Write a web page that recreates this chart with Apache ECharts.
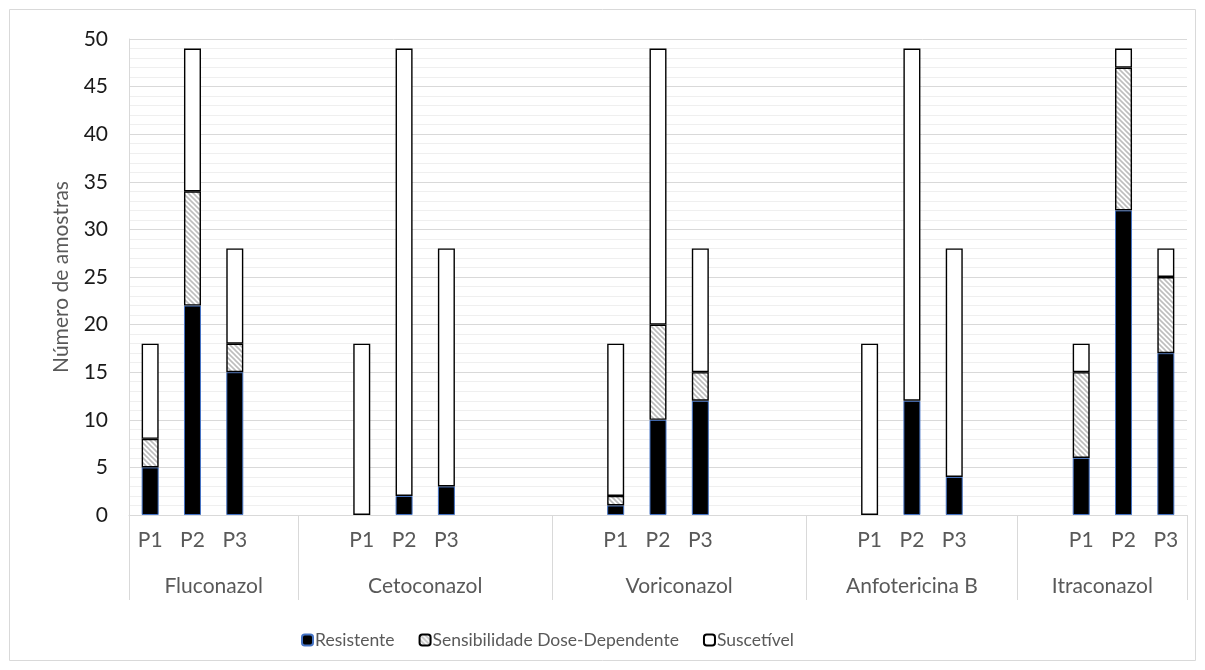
<!DOCTYPE html>
<html><head><meta charset="utf-8">
<script src="https://cdn.jsdelivr.net/npm/echarts@6/dist/echarts.min.js"></script>
<style>html,body{margin:0;padding:0;background:#fff}#c{width:1205px;height:670px}</style>
</head><body><div id="c"></div>
<script>
// ---- data ----
const groups = ['Fluconazol', 'Cetoconazol', 'Voriconazol', 'Anfotericina B', 'Itraconazol'];
const groupSlots = [4, 6, 6, 5, 4];
const categories = ['P1','P2','P3','',
                    '','P1','P2','P3','','',
                    '','P1','P2','P3','','',
                    '','P1','P2','P3','',
                    '','P1','P2','P3'];
const resistente = [5, 22, 15,  0, 2, 3,  1, 10, 12,  0, 12, 4,  6, 32, 17];
const doseDep    = [3, 12, 3,   0, 0, 0,  1, 10, 3,   0, 0, 0,   9, 15, 8];
const suscetivel = [10, 15, 10, 18, 47, 25, 16, 29, 13, 18, 37, 24, 3, 2, 3];
const yTicks = [0, 5, 10, 15, 20, 25, 30, 35, 40, 45, 50];

const FONT = 'Lato, "Open Sans", sans-serif';

function spread(vals) {
  let k = 0;
  return categories.map(c => {
    if (!c) return null;
    const v = vals[k++];
    return v === 0 ? null : v;
  });
}

// second-level (group) axis: half-slot resolution
const total = groupSlots.reduce((a, b) => a + b, 0);
const groupAxis = new Array(2 * total + 1).fill('');
const sepIdx = new Set([0]);
let b = 0;
groups.forEach((g, i) => {
  const s = b, e = b + groupSlots[i];
  groupAxis[s + e] = g;
  sepIdx.add(2 * e);
  b = e;
});

// hatch pattern
const hatch = document.createElement('canvas');
hatch.width = 5; hatch.height = 5;
(function () {
  const ctx = hatch.getContext('2d');
  ctx.fillStyle = '#fff'; ctx.fillRect(0, 0, 5, 5);
  ctx.strokeStyle = '#bdbdbd'; ctx.lineWidth = 1.6;
  ctx.beginPath();
  ctx.moveTo(-1, -1); ctx.lineTo(6, 6);
  ctx.moveTo(-6, -1); ctx.lineTo(1, 6);
  ctx.moveTo(4, -1); ctx.lineTo(11, 6);
  ctx.stroke();
})();

const chart = echarts.init(document.getElementById('c'), null, { renderer: 'canvas' });
chart.setOption({
  animation: false,
  backgroundColor: '#fff',
  textStyle: { fontFamily: FONT },
  graphic: [{
    type: 'rect', shape: { x: 9.5, y: 9.5, width: 1186, height: 651 },
    style: { fill: 'none', stroke: '#d9d9d9', lineWidth: 1 }, silent: true, z: -1
  }],
  grid: { left: 129, right: 18, top: 39, bottom: 155 },
  legend: {
    top: 626, left: 296,
    itemWidth: 11, itemHeight: 11, itemGap: 24,
    textStyle: { color: '#595959', fontSize: 17.5, fontFamily: FONT, padding: [0, 0, 0, -3] },
    data: ['Resistente', 'Sensibilidade Dose-Dependente', 'Suscetível']
  },
  xAxis: [{
    type: 'category', position: 'bottom', data: categories,
    axisLine: { show: true, lineStyle: { color: '#d9d9d9' } },
    axisTick: { show: false },
    axisLabel: { interval: 0, color: '#595959', fontSize: 21, margin: 15, fontFamily: FONT },
    splitLine: { show: false }
  }, {
    type: 'category', position: 'bottom', data: groupAxis, boundaryGap: false,
    axisLine: { show: false },
    axisTick: { show: true, length: 85, interval: (i) => sepIdx.has(i), lineStyle: { color: '#d9d9d9' } },
    axisLabel: { interval: 0, color: '#595959', fontSize: 21, margin: 61, fontFamily: FONT },
    splitLine: { show: false }
  }],
  yAxis: {
    type: 'value', min: yTicks[0], max: yTicks[yTicks.length - 1], interval: yTicks[1] - yTicks[0],
    name: 'Número de amostras', nameLocation: 'middle', nameGap: 57,
    nameTextStyle: { color: '#595959', fontSize: 21, fontFamily: FONT },
    axisLine: { show: true, lineStyle: { color: '#d9d9d9' } },
    axisTick: { show: false },
    axisLabel: { color: '#1a1a1a', fontSize: 21, margin: 21, fontFamily: FONT },
    splitLine: { show: true, lineStyle: { color: '#d9d9d9', width: 1 } },
    minorTick: { show: false, splitNumber: 5 },
    minorSplitLine: { show: true, lineStyle: { color: '#efefef', width: 1 } }
  },
  series: [{
    name: 'Resistente', type: 'bar', stack: 'total', barWidth: 17, xAxisIndex: 0,
    data: spread(resistente),
    itemStyle: { color: '#000', borderColor: '#4472c4', borderWidth: 1 }
  }, {
    name: 'Sensibilidade Dose-Dependente', type: 'bar', stack: 'total', barWidth: 17, xAxisIndex: 0,
    data: spread(doseDep),
    itemStyle: { color: { image: hatch, repeat: 'repeat' }, borderColor: '#000', borderWidth: 1.4 }
  }, {
    name: 'Suscetível', type: 'bar', stack: 'total', barWidth: 17, xAxisIndex: 0,
    data: spread(suscetivel),
    itemStyle: { color: '#fff', borderColor: '#000', borderWidth: 1.4 }
  }]
});
</script>
</body></html>
